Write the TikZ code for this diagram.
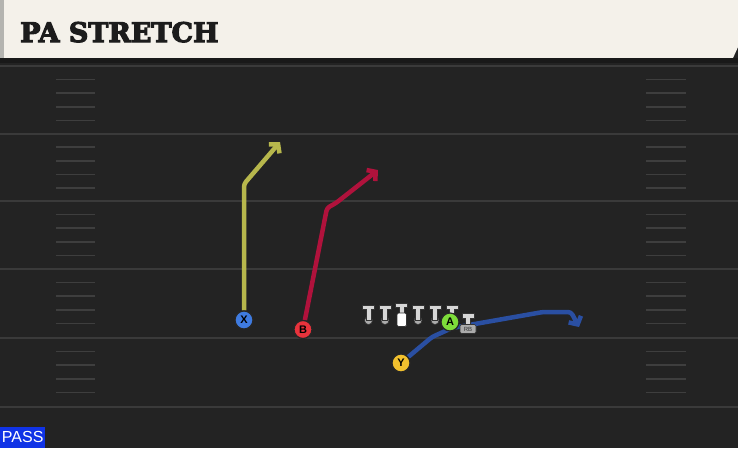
\documentclass[tikz,border=0pt]{standalone}
\usepackage{fontspec}
\setsansfont{Liberation Sans}
\newfontfamily\titlefont{DejaVu Serif}
\newcommand\heavytext[1]{\special{pdf:literal direct 2 Tr 1.1 w}#1\special{pdf:literal direct 0 Tr}}
\usetikzlibrary{arrows.meta,backgrounds}

\definecolor{fieldgray}{HTML}{232323}
\definecolor{yardgray}{HTML}{3A3A3A}
\definecolor{hashgray}{HTML}{3E3E3E}
\definecolor{headercream}{HTML}{F4F1EA}
\definecolor{headeredge}{HTML}{B4B4B0}
\definecolor{titleblack}{HTML}{1C1C1C}
\definecolor{xroute}{HTML}{B7B74C}
\definecolor{broute}{HTML}{B0123C}
\definecolor{yroute}{HTML}{2A4FA2}
\definecolor{xblue}{HTML}{3F7BE0}
\definecolor{bred}{HTML}{E8333C}
\definecolor{yyellow}{HTML}{F2C12E}
\definecolor{agreen}{HTML}{7DDC3A}
\definecolor{linegray}{HTML}{D6D6D6}
\definecolor{ballgray}{HTML}{ABABAB}
\definecolor{passblue}{HTML}{1033E6}
\tikzstyle{player} = [draw=black!85, line width=1.2pt, circle, minimum size=18pt, inner sep=0pt, font=\sffamily\bfseries\fontsize{11}{11}\selectfont, text=black]

\begin{document}
\begin{tikzpicture}[x=1pt,y=-1pt,
			yard/.style = {draw=yardgray, line width=2pt},
			hash/.style = {draw=hashgray, line width=1.6pt},
			route/.style = {line width=4.5pt, line join=round, rounded corners=3pt, -{Straight Barb[length=6pt,width=14pt]}},
			lineman/.style = {fill=linegray, draw=black!80, line width=0.6pt},
			rbtag/.style = {fill=ballgray, draw=black!80, line width=0.6pt, rounded corners=1.5pt, inner sep=0pt, minimum width=16pt, minimum height=9pt, font=\sffamily\fontsize{6}{6}\selectfont, text=black!80}]
			\useasboundingbox (0,0) rectangle (738,448);
			\begin{pgfonlayer}{background}
			\fill[fieldgray] (0,0) rectangle (738,448);
			% header
			\fill[headeredge] (0,0) rectangle (4,58);
			\fill[headercream] (4,0) -- (738,0) -- (738,47) -- (733,58) -- (4,58) -- cycle;
			\fill[black!90] (0,58) rectangle (738,63);
			% field
			\foreach \y in {66,133.5,201,269,338,407}
				\draw[yard] (0,\y) -- (738,\y);
			\foreach \y in {66,133.5,201,269,338}
				\foreach \k in {1,...,4} {
					\draw[hash] (56,\y+\k*13.6) -- (95,\y+\k*13.6);
					\draw[hash] (646,\y+\k*13.6) -- (686,\y+\k*13.6);
				}
			\end{pgfonlayer}
			\node[anchor=base west, inner sep=0pt, font=\titlefont\bfseries\fontsize{27}{27}\selectfont, text=titleblack] (title) at (20,42) {\heavytext{PA STRETCH}};
			% line
			\foreach \x in {368.5,385,418,435,452} {
				\fill[ballgray, draw=black!80, line width=0.6pt] (\x,320.5) circle (4);
				\path[lineman] (\x-6,305) -- (\x+6,305) -- (\x+6,309.5) -- (\x+2.5,309.5) -- (\x+2.5,320) -- (\x-2.5,320) -- (\x-2.5,309.5) -- (\x-6,309.5) -- cycle;
			}
			\path[lineman] (395.5,303) -- (407.5,303) -- (407.5,307.5) -- (404,307.5) -- (404,313) -- (399,313) -- (399,307.5) -- (395.5,307.5) -- cycle;
			\path[fill=white, draw=black!80, line width=0.6pt, rounded corners=1.5pt] (397,313) rectangle (406.5,326.5);
			\node[rbtag] (rb) at (468,329) {RB};
			\path[lineman] (462,313.5) -- (474,313.5) -- (474,318) -- (470.5,318) -- (470.5,324.5) -- (465.5,324.5) -- (465.5,318) -- (462,318) -- cycle;
			% players
			\node[player, fill=xblue] (X) at (244,320) {X};
			\node[player, fill=bred] (B) at (303,329.5) {B};
			\node[player, fill=yyellow] (Y) at (401,363) {Y};
			\node[player, fill=agreen] (A) at (450,322) {A};
			% routes
			\coordinate (xbend) at (244,184);
			\coordinate (xend) at (280,142);
			\coordinate (bbend) at (327,208);
			\coordinate (bkink) at (336,203);
			\coordinate (bend) at (378,170);
			\coordinate (ybend) at (432,337);
			\coordinate (ykink) at (452,328);
			\coordinate (yout) at (543,312);
			\coordinate (ycurl) at (571,312);
			\coordinate (yend) at (579,327);
			\begin{pgfonlayer}{background}
			\draw[route, xroute] (X) -- (xbend) -- (xend);
			\draw[route, broute] (B) -- (bbend) -- (bkink) -- (bend);
			\draw[route, yroute] (Y) -- (ybend) -- (ykink) -- (yout) -- (ycurl) -- (yend);
			\end{pgfonlayer}
			% play type
			\node[fill=passblue, text=white, anchor=south west, minimum width=45pt, minimum height=21pt, inner sep=0pt, font=\sffamily\fontsize{16}{16}\selectfont] (pass) at (0,448) {PASS};
		\end{tikzpicture}
\end{document}
